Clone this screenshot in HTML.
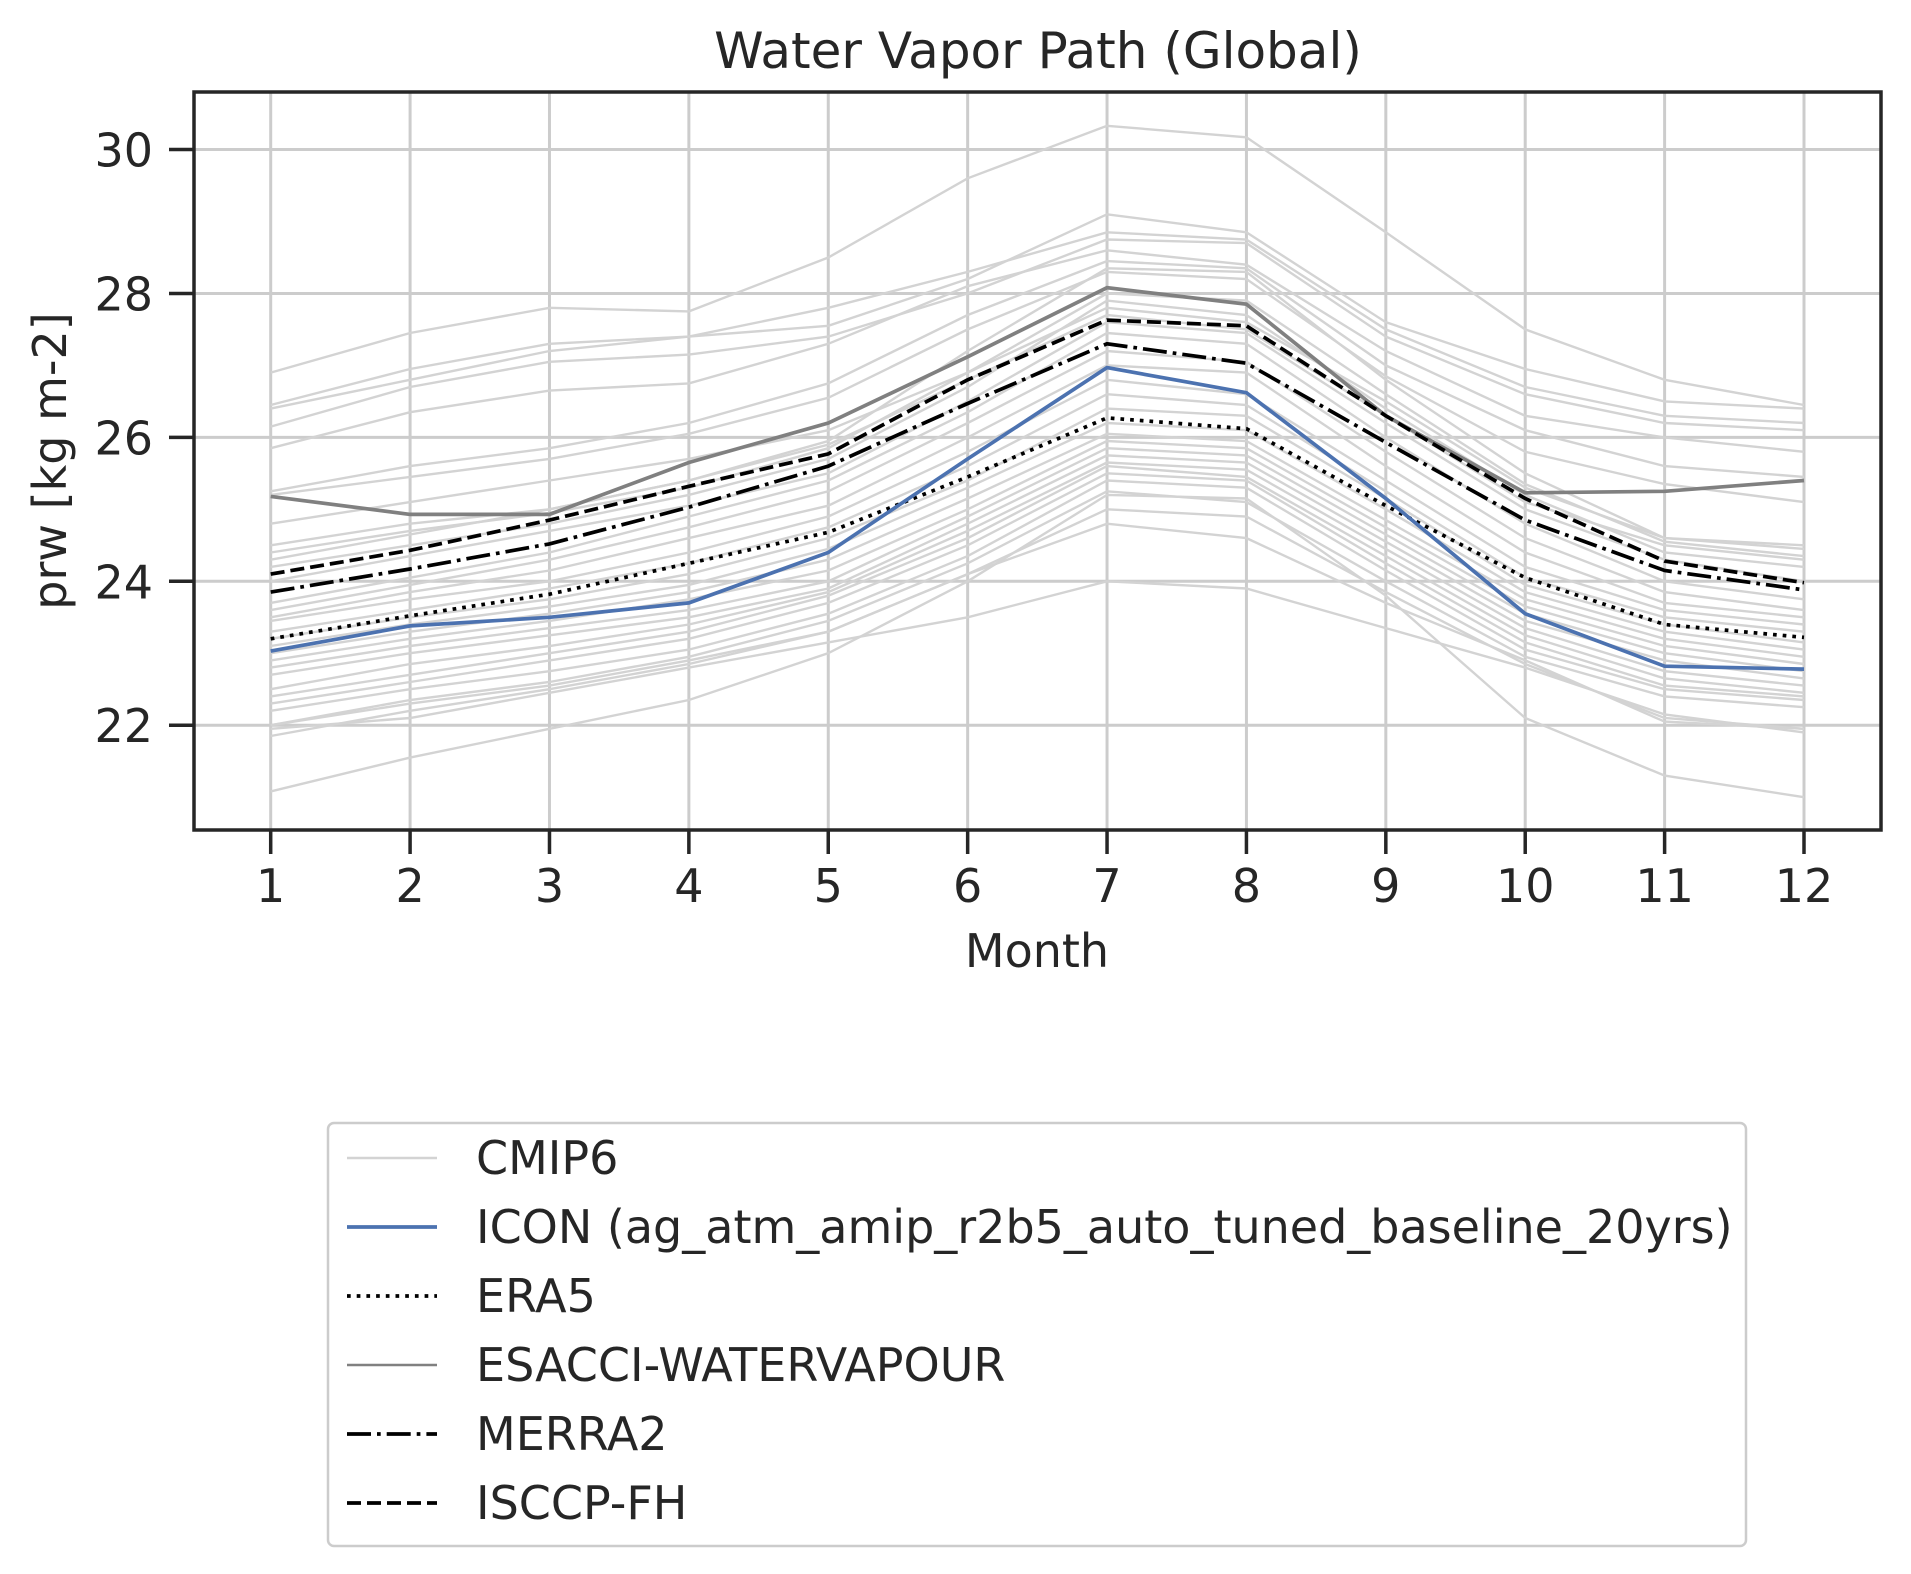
<!DOCTYPE html>
<html><head><meta charset="utf-8"><style>
html,body{margin:0;padding:0;background:#fff}
svg{display:block;font-family:"DejaVu Sans","Liberation Sans",sans-serif}
</style></head><body>
<svg id="chart" width="1911" height="1574" viewBox="0 0 1911 1574" xmlns="http://www.w3.org/2000/svg">
<text x="1038" y="68" font-size="50" text-anchor="middle" fill="#262626">Water Vapor Path (Global)</text>
<g id="grid"></g><g id="series"></g>
<rect x="194" y="92" width="1687" height="738" fill="none" stroke="#262626" stroke-width="3.5"/>
<g id="axes"></g>
<text x="1037" y="967" font-size="46" text-anchor="middle" fill="#262626">Month</text>
<text transform="translate(66,461) rotate(-90)" font-size="46" text-anchor="middle" fill="#262626">prw [kg m-2]</text>
<g>
<rect x="328" y="1123" width="1418" height="423" rx="6" fill="#fff" stroke="#cccccc" stroke-width="2.5"/>
<g id="legend-items"></g>
</g>
</svg>
<script>
const months = [1,2,3,4,5,6,7,8,9,10,11,12];
const yTicks = [22,24,26,28,30];
const icon = [23.03,23.38,23.5,23.7,24.4,25.7,26.97,26.62,25.15,23.55,22.82,22.78];
const era5 = [23.2,23.52,23.82,24.25,24.68,25.45,26.27,26.12,25.05,24.05,23.4,23.22];
const esacci = [25.18,24.93,24.93,25.65,26.2,27.12,28.08,27.85,26.3,25.23,25.25,25.4];
const merra2 = [23.85,24.17,24.52,25.03,25.6,26.47,27.3,27.03,25.93,24.85,24.15,23.88];
const isccp = [24.1,24.43,24.85,25.32,25.77,26.8,27.63,27.55,26.3,25.15,24.28,23.98];
const cmip6 = [
[26.9,27.45,27.8,27.75,28.5,29.6,30.33,30.17,28.85,27.5,26.8,26.45],
[26.45,26.95,27.3,27.4,27.55,28.2,29.1,28.85,27.6,26.95,26.5,26.4],
[26.4,26.8,27.2,27.4,27.8,28.3,28.85,28.75,27.5,26.7,26.3,26.2],
[26.15,26.7,27.05,27.15,27.4,28.0,28.75,28.7,27.4,26.6,26.2,26.1],
[25.85,26.35,26.65,26.75,27.3,28.1,28.6,28.4,27.2,26.3,26.0,25.8],
[25.25,25.6,25.85,26.2,26.75,27.7,28.45,28.35,27.0,26.1,25.6,25.45],
[25.2,25.45,25.7,26.05,26.55,27.5,28.3,28.2,26.85,25.8,25.35,25.1],
[24.5,24.8,25.0,25.4,25.95,27.2,28.35,28.3,26.8,25.5,24.6,24.45],
[24.4,24.7,24.95,25.3,25.85,26.9,28.0,27.9,26.6,25.35,24.55,24.35],
[24.2,24.5,24.8,25.2,25.7,26.7,27.9,27.7,26.4,25.2,24.4,24.2],
[24.0,24.35,24.7,25.05,25.5,26.5,27.6,27.45,26.2,25.0,24.3,24.0],
[23.7,24.05,24.4,24.9,25.4,26.35,27.45,27.3,26.0,24.8,24.0,23.75],
[23.6,23.95,24.3,24.75,25.25,26.2,27.2,27.05,25.8,24.6,23.85,23.6],
[23.5,23.85,24.15,24.6,25.05,26.0,27.0,26.9,25.6,24.4,23.7,23.5],
[23.45,23.75,24.0,24.4,24.9,25.8,26.8,26.6,25.4,24.2,23.6,23.4],
[23.3,23.6,23.9,24.25,24.75,25.6,26.6,26.45,25.25,24.05,23.5,23.3],
[23.2,23.5,23.75,24.1,24.6,25.4,26.4,26.3,25.15,23.95,23.4,23.15],
[23.1,23.4,23.65,23.95,24.45,25.3,26.2,26.1,25.0,23.85,23.3,23.05],
[23.0,23.3,23.55,23.85,24.3,25.15,26.05,25.95,24.85,23.75,23.2,22.95],
[22.9,23.2,23.45,23.75,24.15,25.0,25.95,25.85,24.75,23.65,23.1,22.85],
[22.8,23.1,23.35,23.6,24.0,24.9,25.85,25.75,24.65,23.55,23.0,22.75],
[22.7,23.0,23.25,23.5,23.9,24.8,25.75,25.65,24.55,23.45,22.9,22.65],
[22.5,22.85,23.1,23.4,23.85,24.7,25.65,25.55,24.45,23.35,22.75,22.55],
[22.4,22.7,23.0,23.3,23.8,24.6,25.6,25.45,24.35,23.25,22.65,22.45],
[22.3,22.6,22.9,23.2,23.7,24.5,25.5,25.4,24.25,23.15,22.55,22.4],
[22.2,22.5,22.75,23.05,23.55,24.35,25.4,25.3,24.15,23.05,22.5,22.35],
[22.0,22.35,22.6,22.95,23.45,24.25,25.25,25.1,24.0,22.95,22.4,22.25],
[21.85,22.2,22.5,22.85,23.3,24.1,25.0,24.9,23.85,22.85,22.1,21.95],
[21.95,22.1,22.45,22.8,23.15,23.5,24.0,23.9,23.35,22.8,22.15,21.9],
[22.0,22.3,22.55,22.9,23.3,24.1,24.8,24.6,23.7,22.9,22.05,21.95],
[21.08,21.55,21.95,22.35,23.0,24.0,25.2,25.15,23.8,22.1,21.3,21.0],
[24.8,25.1,25.4,25.7,26.1,26.9,27.8,27.6,26.5,25.3,24.6,24.5],
[24.3,24.65,25.0,25.4,25.9,26.8,27.7,27.5,26.3,25.1,24.5,24.3]
];
const X0=194, X1=1881, Y0=92, Y1=830;
const xScale = m => 270.7 + (m-1)*(1804-270.7)/11;
const yScale = v => 725.2 - (v-22)*71.96;
const NS="http://www.w3.org/2000/svg";
function mk(tag, attrs, parent){const e=document.createElementNS(NS,tag);for(const k in attrs)e.setAttribute(k,attrs[k]);parent.appendChild(e);return e;}
const grid=document.getElementById('grid'), axes=document.getElementById('axes'), series=document.getElementById('series');
months.forEach(m=>{
  const g=mk('line',{x1:xScale(m),x2:xScale(m),y1:Y0,y2:Y1,stroke:'#cccccc','stroke-width':3},grid);
  
  
  const t=mk('line',{x1:xScale(m),x2:xScale(m),y1:Y1,y2:Y1+24,stroke:'#262626','stroke-width':3.5},axes);
  
  
  const l=mk('text',{x:xScale(m),y:902,'font-size':46,'text-anchor':'middle',fill:'#262626'},axes);
  l.textContent=m;
  
  
});
yTicks.forEach(v=>{
  const g=mk('line',{x1:X0,x2:X1,y1:yScale(v),y2:yScale(v),stroke:'#cccccc','stroke-width':3},grid);
  
  
  const t=mk('line',{x1:X0-25,x2:X0,y1:yScale(v),y2:yScale(v),stroke:'#262626','stroke-width':3.5},axes);
  
  
  const l=mk('text',{x:153,y:yScale(v)+17,'font-size':46,'text-anchor':'end',fill:'#262626'},axes);
  l.textContent=v;
  
  
});
function pts(arr){return arr.map((v,i)=>xScale(months[i]).toFixed(1)+','+yScale(v).toFixed(1)).join(' ');}
cmip6.forEach(arr=>{
  const p=mk('polyline',{points:pts(arr),fill:'none',stroke:'#d3d3d3','stroke-width':2.4},series);
  
  
});
const styles=[
 ['era5-line',era5,'#000','3.7,6',null],
 ['esacci-line',esacci,'#808080',null,null],
 ['merra2-line',merra2,'#000','24,6,3.7,6',null],
 ['isccp-line',isccp,'#000','14,6',null],
 ['icon-line',icon,'#4c72b0',null,null]
];
styles.forEach(s=>{
  const a={points:pts(s[1]),fill:'none',stroke:s[2],'stroke-width':3.7};
  if(s[3])a['stroke-dasharray']=s[3];
  const p=mk('polyline',a,series);
  
  
});
const legendLabels=['CMIP6','ICON (ag_atm_amip_r2b5_auto_tuned_baseline_20yrs)','ERA5','ESACCI-WATERVAPOUR','MERRA2','ISCCP-FH'];
const legendStroke=['#d3d3d3','#4c72b0','#000','#808080','#000','#000'];
const legendDash=[null,null,'3.7,6',null,'24,6,3.7,6','14,6'];
const legendW=[2.4,3.7,3.7,2.4,3.7,3.7];
const li=document.getElementById('legend-items');
legendLabels.forEach((lab,i)=>{
  const y=1158+i*69;
  const a={x1:347,x2:437,y1:y,y2:y,stroke:legendStroke[i],'stroke-width':legendW[i]};
  if(legendDash[i])a['stroke-dasharray']=legendDash[i];
  const ln=mk('line',a,li);
  
  
  const t=mk('text',{x:476,y:y+16,'font-size':46,fill:'#262626'},li);
  t.textContent=lab;
  
  
});
</script>
</body></html>
